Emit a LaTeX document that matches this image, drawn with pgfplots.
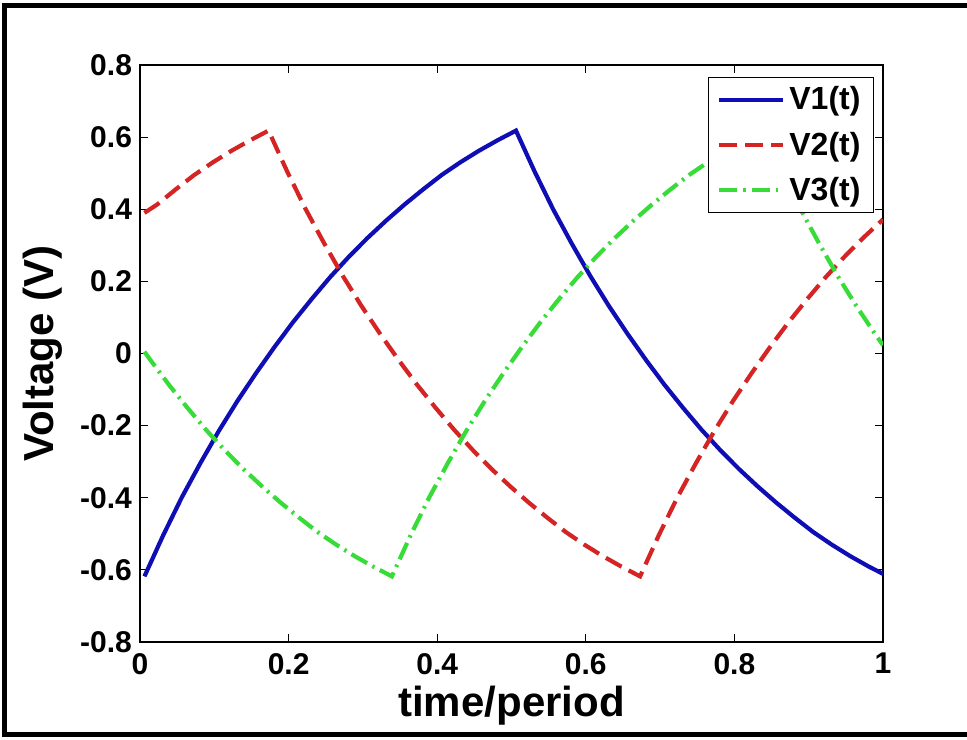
\documentclass[border=0pt]{standalone}
\usepackage{fontspec}
\setmainfont{Liberation Sans}
\usepackage{pgfplots}
\pgfplotsset{compat=1.18}
\usetikzlibrary{calc}
\definecolor{vblue}{RGB}{14,14,180}
\definecolor{vred}{RGB}{212,36,36}
\definecolor{vgreen}{RGB}{56,220,56}
\begin{document}
\begin{tikzpicture}
\begin{axis}[
  scale only axis, width=371.5pt, height=288.5pt,
  xmin=0, xmax=1, ymin=-0.8, ymax=0.8,
  xtick={0,0.2,0.4,0.6,0.8,1}, xticklabels={0,0.2,0.4,0.6,0.8,1},
  ytick={-0.8,-0.6,-0.4,-0.2,0,0.2,0.4,0.6,0.8},
  yticklabels={-0.8,-0.6,-0.4,-0.2,0,0.2,0.4,0.6,0.8},
  tick align=inside, major tick length=4pt,
  tick style={black, line width=0.5pt},
  axis line style={black, line width=0.6pt},
  /pgf/number format/assume math mode=true,
  tick label style={font=\fontsize{15}{15}\selectfont\bfseries},
  xticklabel style={yshift=-2pt},
  yticklabel style={xshift=-0.5pt},
  xlabel={time/period}, ylabel={Voltage (V)},
  label style={font=\fontsize{21}{21}\selectfont\bfseries},
  xlabel style={yshift=1pt},
  ylabel style={yshift=2pt},
  legend style={at={(0.988,0.979)}, anchor=north east, draw=black, line width=0.6pt,
    font=\fontsize{16}{16}\selectfont\bfseries, inner xsep=4.5pt, inner ysep=2.5pt,
    row sep=5.5pt, fill=white},
  legend cell align=left,
  legend image code/.code={\draw[#1] (0pt,0pt) -- (32pt,0pt);},
]
\addplot[vblue, line width=2.1pt, solid] coordinates {
(0.006,-0.618) (0.031,-0.505) (0.056,-0.400) (0.081,-0.305) (0.106,-0.215)
(0.131,-0.132) (0.156,-0.055) (0.181,0.018) (0.206,0.087) (0.231,0.151)
(0.256,0.212) (0.281,0.268) (0.306,0.320) (0.331,0.368) (0.356,0.413)
(0.381,0.455) (0.406,0.495) (0.431,0.530) (0.456,0.562) (0.481,0.591)
(0.506,0.618) (0.531,0.505) (0.556,0.400) (0.581,0.305) (0.606,0.215)
(0.631,0.132) (0.656,0.055) (0.681,-0.018) (0.706,-0.087) (0.731,-0.151)
(0.756,-0.212) (0.781,-0.268) (0.806,-0.320) (0.831,-0.368) (0.856,-0.413)
(0.881,-0.455) (0.906,-0.495) (0.931,-0.530) (0.956,-0.562) (0.981,-0.591)
(1.000,-0.611)
};
\addlegendentry{V1(t)}
\addplot[vred, line width=2.1pt, dash pattern=on 9pt off 4pt] coordinates {
(0.006,0.390) (0.023,0.413) (0.048,0.455) (0.073,0.495) (0.098,0.530)
(0.123,0.562) (0.148,0.591) (0.173,0.618) (0.198,0.505) (0.223,0.400)
(0.248,0.305) (0.273,0.215) (0.298,0.132) (0.323,0.055) (0.348,-0.018)
(0.373,-0.087) (0.398,-0.151) (0.423,-0.212) (0.448,-0.268) (0.473,-0.320)
(0.498,-0.368) (0.523,-0.413) (0.548,-0.455) (0.573,-0.495) (0.598,-0.530)
(0.623,-0.562) (0.648,-0.591) (0.673,-0.618) (0.698,-0.505) (0.723,-0.400)
(0.748,-0.305) (0.773,-0.215) (0.798,-0.132) (0.823,-0.055) (0.848,0.018)
(0.873,0.087) (0.898,0.151) (0.923,0.212) (0.948,0.268) (0.973,0.320)
(0.998,0.368) (1.000,0.372)
};
\addlegendentry{V2(t)}
\addplot[vgreen, line width=2.1pt, dash pattern=on 9pt off 3pt on 1.2pt off 3pt] coordinates {
(0.006,0.005) (0.014,-0.018) (0.039,-0.087) (0.064,-0.151) (0.089,-0.212)
(0.114,-0.268) (0.139,-0.320) (0.164,-0.368) (0.189,-0.413) (0.214,-0.455)
(0.239,-0.495) (0.264,-0.530) (0.289,-0.562) (0.314,-0.591) (0.339,-0.618)
(0.364,-0.505) (0.389,-0.400) (0.414,-0.305) (0.439,-0.215) (0.464,-0.132)
(0.489,-0.055) (0.514,0.018) (0.539,0.087) (0.564,0.151) (0.589,0.212)
(0.614,0.268) (0.639,0.320) (0.664,0.368) (0.689,0.413) (0.714,0.455)
(0.739,0.495) (0.764,0.530) (0.789,0.562) (0.814,0.591) (0.839,0.618)
(0.864,0.505) (0.889,0.400) (0.914,0.305) (0.939,0.215) (0.964,0.132)
(0.989,0.055) (1.000,0.023)
};
\addlegendentry{V3(t)}
\end{axis}
\path[use as bounding box] ($(current axis.south west)+(-70pt,-48.5pt)$) rectangle ($(current axis.north east)+(42pt,32.5pt)$);
\draw[black, line width=2.75pt] ($(current axis.south west)+(-67.75pt,-46.25pt)$) -- ($(current axis.south west)+(-67.75pt,318.25pt)$);
\draw[black, line width=2.75pt] ($(current axis.south west)+(-69.125pt,318.25pt)$) -- ($(current axis.south west)+(480pt,318.25pt)$);
\draw[black, line width=2.75pt] ($(current axis.south west)+(-69.125pt,-46.25pt)$) -- ($(current axis.south west)+(480pt,-46.25pt)$);
\end{tikzpicture}
\end{document}
